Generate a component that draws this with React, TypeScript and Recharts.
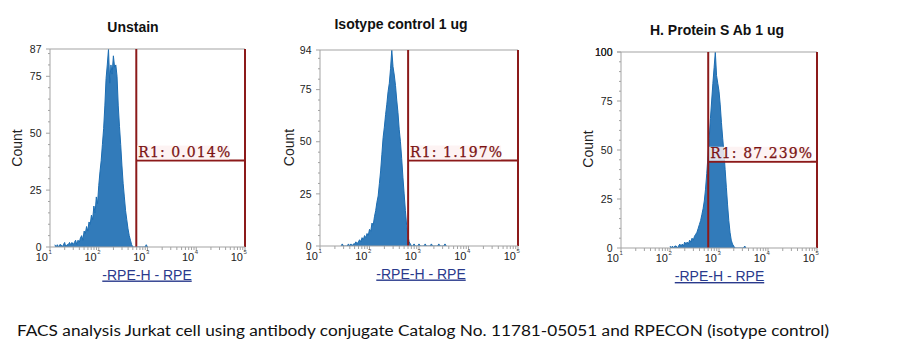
import React from 'react'
import { ComposedChart, Area, XAxis, YAxis, ReferenceLine } from 'recharts'

// histogram bins are 0.025 decades wide, x is log10(RPE channel)
const BIN = 0.025
const DECADES = [1, 2, 3, 4, 5]

const unstainStart = 1.1
const unstainCounts = [
  1, 0, 1, 0, 1, 1, 0, 1, 2, 0, 1, 1, 2, 1, 2, 1, 2, 3, 1, 3,
  2, 4, 5, 3, 7, 6, 9, 7, 11, 10, 14, 12, 18, 15, 22, 19, 27, 33, 38, 45,
  52, 62, 74, 80, 87, 72, 80, 76, 84, 79, 80, 75, 62, 53, 45, 36, 28, 22, 16, 12,
  8, 5, 3, 1, 0, 0, 0, 0, 0, 0, 0, 0, 0, 0, 0, 1, 0,
]

const isotypeStart = 1.425
const isotypeCounts = [
  0, 1, 0, 0, 0, 0, 1, 0, 1, 0, 1, 1, 2, 1, 2, 3, 2, 4, 3, 5,
  4, 6, 5, 8, 7, 11, 10, 14, 17, 21, 24, 30, 36, 44, 52, 57, 63, 68, 74, 78,
  85, 94, 86, 82, 77, 70, 64, 56, 50, 42, 33, 25, 17, 10, 5, 2, 1, 0, 0, 1,
  0, 0, 0, 1, 0, 0, 0, 0, 1, 0, 0, 0, 0, 1, 0, 0, 0, 0, 0, 1, 0, 0, 0, 0, 1, 0,
]

const proteinStart = 2.0
const proteinCounts = [
  1, 0, 1, 0, 1, 1, 0, 1, 2, 1, 2, 1, 3, 2, 3, 2, 4, 3, 5, 4,
  6, 7, 8, 10, 12, 14, 17, 20, 24, 30, 38, 47, 56, 66, 75, 84, 92, 100, 88, 84,
  80, 73, 64, 56, 49, 40, 31, 22, 14, 8, 4, 2, 1, 0, 0, 0, 0, 0, 0, 0, 0, 1, 0,
]

const titles = ['Unstain', 'Isotype control 1 ug', 'H. Protein S Ab 1 ug']
const gateLabels = ['R1: 0.014%', 'R1: 1.197%', 'R1: 87.239%']
const yMax = [87, 94, 100]
const gateLow = [2.77, 2.78, 2.78]
const gateHigh = 5
const gateLevel = [38, 41, 44]
const xTitle = '-RPE-H - RPE'
const caption =
  'FACS analysis Jurkat cell using antibody conjugate Catalog No. 11781-05051 and RPECON (isotype control)'

const BLUE = '#1c6db2'
const GATE = '#8c1a1a'
const AXIS = '#a3a3a3'
const SANS = '"Liberation Sans", Arial, sans-serif'

// plot rectangles (left, right, top, bottom)
const PANELS = [
  { l: 50, r: 245, t: 49, b: 247, title: [133, 31.5], count: [17, 148], xt: [147, 279.5] },
  { l: 320, r: 518, t: 50, b: 246, title: [401, 28.5], count: [289, 147.5], xt: [421, 278.5] },
  { l: 621, r: 817, t: 52, b: 248, title: [717, 34.5], count: [588, 149], xt: [719.5, 281] },
]

const toRows = (start: number, counts: number[]) =>
  counts.map((c, i) => ({ L: start + i * BIN, c }))

const series = [
  toRows(unstainStart, unstainCounts),
  toRows(isotypeStart, isotypeCounts),
  toRows(proteinStart, proteinCounts),
]

const xTicks = DECADES.flatMap((d) =>
  d < 5 ? [d, ...[2, 3, 4, 5, 6, 7, 8, 9].map((k) => d + Math.log10(k))] : [d]
)

function LogTick(props: any) {
  const { x, y, payload } = props
  const v = payload.value
  const major = Math.abs(v - Math.round(v)) < 1e-6
  return (
    <g>
      <line x1={x} x2={x} y1={y} y2={y + (major ? 4 : 3)} stroke={AXIS} />
      {major && (
        <text x={x - 2} y={y + 14} textAnchor="end" fontSize={11} fill="#222" fontFamily={SANS}>
          10
        </text>
      )}
      {major && (
        <text x={x - 1.5} y={y + 7} fontSize={6} fill="#444" fontFamily={SANS}>
          {Math.round(v)}
        </text>
      )}
    </g>
  )
}

function CountTick(props: any) {
  const { x, y, payload, majors } = props
  const v = payload.value
  const major = majors.includes(v)
  return (
    <g>
      <line x1={x} x2={x - (major ? 4 : 2)} y1={y} y2={y} stroke={AXIS} />
      {major && (
        <text x={x - 8.5} y={y} dy="0.35em" textAnchor="end" fontSize={10.5} fill="#222" fontFamily={SANS}>
          {v}
        </text>
      )}
    </g>
  )
}

function GateLabel(props: any) {
  const { viewBox, text } = props
  const x = viewBox.x + 1
  const y = viewBox.y
  return (
    <g>
      <rect x={x} y={y - 15} width={text.length * 9.2} height={14} fill="#fdf1f1" fillOpacity={0.85} />
      <text
        x={x + 1}
        y={y - 3.5}
        fontSize={14}
        letterSpacing={1.1}
        fill="#7a1212"
        stroke="#7a1212"
        strokeWidth={0.25}
        fontFamily='"DejaVu Serif", serif'
      >
        {text}
      </text>
    </g>
  )
}

function Panel({ i }: { i: number }) {
  const p = PANELS[i]
  const max = yMax[i]
  const majors = [0, 25, 50, 75, max]
  const yTicks = [...Array.from({ length: Math.floor(max / 5) + 1 }, (_, k) => k * 5), max]
  const w = 40 + (p.r - p.l) + 10
  const h = 10 + (p.b - p.t) + 30
  return (
    <div style={{ position: 'absolute', left: p.l - 40, top: p.t - 10 }}>
      <ComposedChart width={w} height={h} data={series[i]} margin={{ top: 10, right: 10, left: 0, bottom: 0 }}>
        <XAxis
          type="number"
          dataKey="L"
          domain={[1, 5]}
          ticks={xTicks}
          interval={0}
          height={30}
          tickSize={0}
          tickMargin={0}
          tickLine={false}
          axisLine={{ stroke: AXIS }}
          tick={LogTick}
          allowDataOverflow
        />
        <YAxis
          type="number"
          domain={[0, max]}
          ticks={yTicks}
          interval={0}
          width={40}
          tickSize={0}
          tickMargin={0}
          tickLine={false}
          axisLine={{ stroke: AXIS }}
          tick={(props: any) => <CountTick {...props} majors={majors} />}
          allowDataOverflow
        />
        <Area
          type="linear"
          dataKey="c"
          stroke={BLUE}
          strokeWidth={1}
          fill={BLUE}
          fillOpacity={0.9}
          dot={false}
          activeDot={false}
          isAnimationActive={false}
        />
        <ReferenceLine y={max} stroke={AXIS} />
        <ReferenceLine x={gateLow[i]} stroke={GATE} strokeWidth={2} />
        <ReferenceLine x={gateHigh} stroke={GATE} strokeWidth={2} />
        <ReferenceLine
          segment={[
            { x: gateLow[i], y: gateLevel[i] },
            { x: gateHigh, y: gateLevel[i] },
          ]}
          stroke={GATE}
          strokeWidth={2}
          label={<GateLabel text={gateLabels[i]} />}
        />
      </ComposedChart>
    </div>
  )
}

export default function App() {
  return (
    <div style={{ position: 'absolute', left: 0, top: 0, width: 907, height: 356, background: '#fff' }}>
      {PANELS.map((_, i) => (
        <Panel key={i} i={i} />
      ))}
      <svg width={907} height={356} style={{ position: 'absolute', left: 0, top: 0, pointerEvents: 'none' }}>
        {PANELS.map((p, i) => (
          <g key={i}>
            <text x={p.title[0]} y={p.title[1]} textAnchor="middle" fontSize={14} fontWeight="bold" fill="#111" fontFamily={SANS}>
              {titles[i]}
            </text>
            <text
              transform={`translate(${p.count[0]},${p.count[1]}) rotate(-90)`}
              textAnchor="middle"
              dy="0.35em"
              fontSize={14}
              fill="#222"
              fontFamily={SANS}
            >
              Count
            </text>
            <text
              x={p.xt[0]}
              y={p.xt[1]}
              textAnchor="middle"
              fontSize={14}
              fill="#2a3a8c"
              style={{ textDecoration: 'underline' }}
              fontFamily={SANS}
            >
              {xTitle}
            </text>
          </g>
        ))}
        <text
          x={17}
          y={336}
          fontSize={15.5}
          fill="#111"
          fontFamily='Lato, "Open Sans", sans-serif'
          textLength={812}
          lengthAdjust="spacingAndGlyphs"
        >
          {caption}
        </text>
      </svg>
    </div>
  )
}
